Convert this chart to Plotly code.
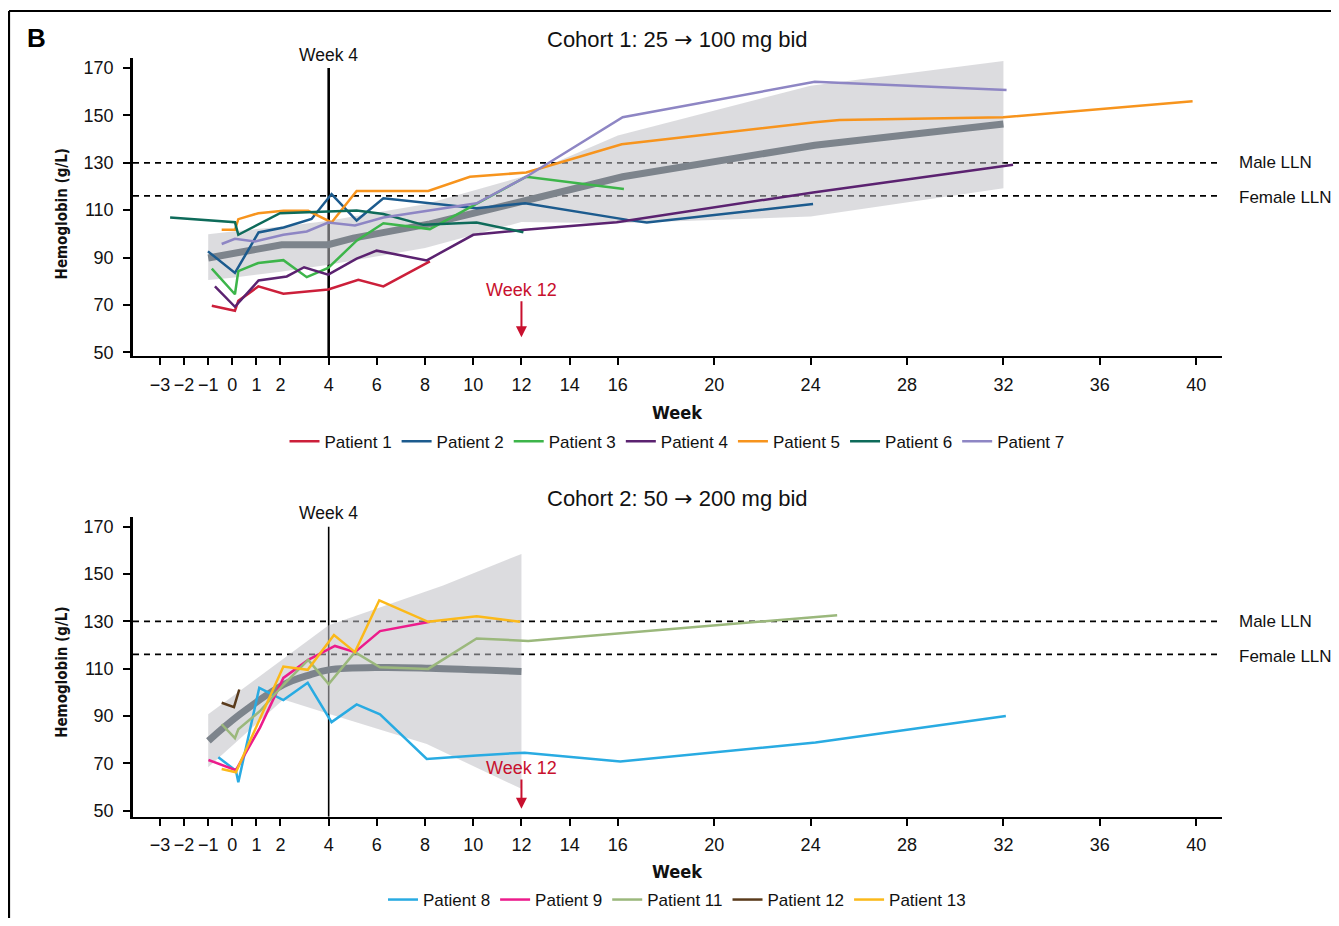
import plotly.graph_objects as go

# ---------------- Data ----------------
week_ticks = [-3, -2, -1, 0, 1, 2, 4, 6, 8, 10, 12, 14, 16, 20, 24, 28, 32, 36, 40]
week_ticktext = ["\u22123", "\u22122", "\u22121", "0", "1", "2", "4", "6", "8", "10", "12",
                 "14", "16", "20", "24", "28", "32", "36", "40"]
hb_ticks = [50, 70, 90, 110, 130, 150, 170]
male_lln = 130
female_lln = 116

# Cohort 1
p1_x = [-0.85, 0.11, 0.25, 1.08, 2.12, 3.98, 5.23, 6.27, 8.2]
p1_y = [69.6, 67.5, 71.7, 77.8, 74.7, 76.5, 80.6, 77.8, 88.4]
p2_x = [-1.01, 0.11, 1.09, 2.13, 3.29, 4.12, 5.16, 6.27, 10.14, 12.15, 16.4, 17.2, 24.1]
p2_y = [92.6, 83.5, 100.6, 102.7, 106.3, 116.8, 105.6, 115.0, 110.8, 112.9, 105.9, 104.8, 112.6]
p3_x = [-0.85, 0.11, 0.25, 1.08, 2.12, 3.09, 3.98, 5.16, 6.27, 8.2, 12.2, 14.5, 16.25]
p3_y = [85.3, 74.5, 84.3, 87.7, 88.9, 81.7, 85.6, 97.1, 104.5, 102.0, 124.1, 121.3, 118.9]
p4_x = [-0.72, 0.11, 1.09, 2.26, 2.98, 3.98, 5.16, 5.99, 8.07, 10.0, 12.15, 15.95, 24.1, 32.4]
p4_y = [77.8, 69.2, 80.3, 82.0, 85.9, 82.8, 89.5, 92.9, 88.8, 99.6, 101.7, 104.9, 117.5, 129.2]
p5_x = [-0.44, 0.11, 0.25, 1.08, 2.12, 3.15, 4.12, 5.16, 8.13, 9.86, 12.2, 16.16, 24.17, 25.2,
        31.99, 35.87, 39.85]
p5_y = [101.7, 101.7, 106.2, 108.7, 109.7, 109.7, 104.8, 118.1, 118.1, 124.1, 125.9, 137.8,
        147.1, 148.1, 149.2, 152.5, 156.0]
p6_x = [-2.58, 0.11, 0.25, 1.98, 3.98, 5.16, 6.27, 7.93, 10.14, 12.08]
p6_y = [106.9, 104.9, 99.6, 108.7, 109.4, 109.8, 108.4, 103.8, 104.8, 100.7]
p7_x = [-0.44, 0.11, 0.94, 2.12, 3.09, 3.98, 5.09, 6.27, 10.14, 12.2, 16.2, 24.17, 32.13]
p7_y = [95.7, 97.9, 96.8, 99.6, 101.0, 104.8, 103.5, 106.9, 112.9, 124.1, 149.2, 164.2, 160.7]

c1_mean_x = [-1, 0.11, 2.05, 3.98, 5.02, 8.2, 12.3, 16.2, 24.17, 32]
c1_mean_y = [89.8, 91.9, 95.4, 95.4, 98.2, 104.2, 114.3, 124.1, 137.4, 146.4]
c1_band_x = [-1, 0, 2, 4, 8, 12, 16, 24, 32]
c1_band_hi = [99.8, 101.0, 103.0, 105.5, 112.5, 124.0, 141.5, 162.5, 173.0]
c1_band_lo = [80.5, 81.5, 84.0, 87.0, 94.0, 105.0, 104.5, 107.3, 119.2]

# Cohort 2
p8_x = [-0.58, 0.15, 0.25, 1.12, 2.12, 3.13, 4.12, 5.16, 6.13, 8.07, 10.14, 12.13, 16.1, 24.2, 32.1]
p8_y = [72.5, 66.9, 62.0, 101.9, 96.7, 104.0, 87.4, 94.9, 90.7, 71.8, 73.3, 74.5, 70.8, 78.8, 90.0]
p9_x = [-0.99, 0.15, 1.15, 2.12, 3.15, 4.26, 5.09, 6.13, 8.2]
p9_y = [71.4, 67.1, 85.1, 106.1, 113.7, 119.6, 117.0, 125.9, 129.8]
p11_x = [-0.44, 0.11, 0.25, 1.15, 2.12, 3.15, 4.0, 5.09, 6.13, 8.13, 10.14, 12.28, 25.1]
p11_y = [86.5, 80.6, 84.4, 92.1, 103.2, 113.7, 103.5, 117.0, 110.6, 109.9, 122.8, 121.7, 132.6]
p12_x = [-0.44, 0.07, 0.29]
p12_y = [95.6, 93.7, 101.2]
p13_x = [-0.44, 0.15, 2.12, 3.13, 4.22, 5.09, 6.1, 8.13, 10.14, 11.94]
p13_y = [67.6, 66.2, 110.9, 109.5, 124.2, 117.0, 138.9, 129.8, 132.2, 129.8]

c2_mean_x = [-0.99, 0.32, 2.12, 3.22, 4.0, 6.13, 8.2, 12]
c2_mean_y = [79.5, 90.7, 103.2, 107.4, 109.5, 110.5, 110.2, 108.8]
c2_band_hi_x = [-1, 4, 8.75, 12]
c2_band_hi = [90.7, 128.4, 145.2, 158.5]
c2_band_lo_x = [-1, 2.12, 4.06, 8.07, 12]
c2_band_lo = [68.3, 97.0, 90.7, 78.1, 59.2]

cohort1 = [("Patient 1", p1_x, p1_y, "#cc1f3a"),
           ("Patient 2", p2_x, p2_y, "#1c5b8e"),
           ("Patient 3", p3_x, p3_y, "#3db54a"),
           ("Patient 4", p4_x, p4_y, "#5b2270"),
           ("Patient 5", p5_x, p5_y, "#f7941d"),
           ("Patient 6", p6_x, p6_y, "#0e6b5a"),
           ("Patient 7", p7_x, p7_y, "#8e86c4")]
cohort2 = [("Patient 8", p8_x, p8_y, "#29abe2"),
           ("Patient 9", p9_x, p9_y, "#ec1c8c"),
           ("Patient 11", p11_x, p11_y, "#9bb87c"),
           ("Patient 12", p12_x, p12_y, "#5a3b1c"),
           ("Patient 13", p13_x, p13_y, "#fbb91a")]

# ---------------- Figure ----------------
OFF = 8                      # page body margin
W, H = 1339 - 2 * OFF, 926 - 2 * OFF


def PX(px):
    return (px - OFF) / W


def PY(py):
    return 1 - (py - OFF) / H


FONT = "Liberation Sans, Arial, Helvetica, sans-serif"
COND = "DejaVu Sans, sans-serif"
BAND = "rgba(192,192,197,0.55)"
MEAN = "#7d848c"
RED = "#c8102e"


def cond(txt):
    return '<span style="font-stretch:condensed">' + txt + '</span>'


fig = go.Figure()

fig.add_trace(go.Scatter(x=c1_band_x + c1_band_x[::-1], y=c1_band_hi + c1_band_lo[::-1],
                         fill="toself", fillcolor=BAND, line=dict(width=0), mode="lines",
                         showlegend=False, hoverinfo="skip", xaxis="x", yaxis="y"))
fig.add_trace(go.Scatter(x=c1_mean_x, y=c1_mean_y, mode="lines",
                         line=dict(color=MEAN, width=7), showlegend=False,
                         xaxis="x", yaxis="y"))
for name, xs, ys, col in cohort1:
    fig.add_trace(go.Scatter(x=xs, y=ys, mode="lines", name=name,
                             line=dict(color=col, width=2.5), xaxis="x", yaxis="y",
                             legend="legend"))

fig.add_trace(go.Scatter(x=c2_band_hi_x + c2_band_lo_x[::-1], y=c2_band_hi + c2_band_lo[::-1],
                         fill="toself", fillcolor=BAND, line=dict(width=0), mode="lines",
                         showlegend=False, hoverinfo="skip", xaxis="x2", yaxis="y2"))
fig.add_trace(go.Scatter(x=c2_mean_x, y=c2_mean_y, mode="lines", line_shape="spline",
                         line=dict(color=MEAN, width=7), showlegend=False,
                         xaxis="x2", yaxis="y2"))
for name, xs, ys, col in cohort2:
    fig.add_trace(go.Scatter(x=xs, y=ys, mode="lines", name=name,
                             line=dict(color=col, width=2.5), xaxis="x2", yaxis="y2",
                             legend="legend2"))

xdom = [PX(133), PX(1222)]
xr = [-4.12, 41.07]
y1dom = [PY(359), PY(58)]
y2dom = [PY(823), PY(521)]
y1r = [48.3, 174.4]
y2r = [47.4, 174.1]

xax = dict(domain=xdom, range=xr, tickmode="array", tickvals=week_ticks, ticktext=week_ticktext,
           showline=True, linecolor="black", linewidth=2.2, ticks="outside", ticklen=7,
           tickwidth=1.6, tickcolor="black", showgrid=False, zeroline=False,
           tickfont=dict(family=FONT, size=18, color="#111"), ticklabelstandoff=4)
yax = dict(tickmode="array", tickvals=hb_ticks, showline=True, linecolor="black",
           linewidth=2.5, ticks="outside", ticklen=7, tickwidth=1.6, tickcolor="black",
           showgrid=False, zeroline=False, tickfont=dict(family=FONT, size=18, color="#111"),
           ticklabelstandoff=6)

fig.update_layout(
    width=W, height=H, margin=dict(l=0, r=0, t=0, b=0),
    paper_bgcolor="white", plot_bgcolor="white",
    xaxis=dict(xax, anchor="y"),
    yaxis=dict(yax, domain=y1dom, range=y1r, anchor="x"),
    xaxis2=dict(xax, anchor="y2"),
    yaxis2=dict(yax, domain=y2dom, range=y2r, anchor="x2"),
    legend=dict(orientation="h", x=PX(677), xanchor="center", y=PY(445), yanchor="middle",
                font=dict(family=FONT, size=17, color="#111"), bgcolor="rgba(0,0,0,0)",
                itemwidth=30, tracegroupgap=0),
    legend2=dict(orientation="h", x=PX(677), xanchor="center", y=PY(907), yanchor="middle",
                 font=dict(family=FONT, size=17, color="#111"), bgcolor="rgba(0,0,0,0)",
                 itemwidth=30, tracegroupgap=0),
    showlegend=True,
)

shapes = []
# frame
shapes.append(dict(type="line", xref="paper", yref="paper", x0=PX(9), x1=PX(9), y0=-0.05, y1=PY(11),
                   line=dict(color="black", width=2.2)))
shapes.append(dict(type="line", xref="paper", yref="paper", x0=PX(9), x1=1.05, y0=PY(11), y1=PY(11),
                   line=dict(color="black", width=2.2)))
for xa, ya, yr, w4 in [("x", "y", y1r, 2.6), ("x2", "y2", y2r, 1.6)]:
    for v in (male_lln, female_lln):
        shapes.append(dict(type="line", xref=xa + " domain", yref=ya, x0=0, x1=1, y0=v, y1=v,
                           line=dict(color="black", width=1.8, dash="6px,5px"), layer="below"))
    shapes.append(dict(type="line", xref=xa, yref=ya, x0=4, x1=4, y0=yr[0], y1=170,
                       line=dict(color="black", width=w4), layer="below"))
fig.update_layout(shapes=shapes)

ARROW = '<span style="font-family:DejaVu Sans">\u2192</span>'
ann = []
ann.append(dict(text="<b>B</b>", xref="paper", yref="paper", x=PX(36), y=PY(38),
                showarrow=False, font=dict(family=FONT, size=26, color="black"),
                xanchor="center", yanchor="middle"))
titles = [("Cohort 1: 25 " + ARROW + " 100 mg bid", 40), ("Cohort 2: 50 " + ARROW + " 200 mg bid", 502)]
for t, yy in titles:
    ann.append(dict(text=t, xref="paper", yref="paper", x=PX(677), y=PY(yy), showarrow=False,
                    font=dict(family=FONT, size=22, color="#111"), xanchor="center", yanchor="middle"))
for xa, ya, wk4y, weeky, hby, w12txt, w12tip in [
        ("x", "y", 55, 416, 215, 76.4, 56.3),
        ("x2", "y2", 517, 878, 677, 68.0, 50.8)]:
    ann.append(dict(text="Week 4", xref=xa, yref="paper", x=4, y=PY(wk4y), showarrow=False,
                    font=dict(family=FONT, size=17.5, color="#111"), xanchor="center", yanchor="middle"))
    ann.append(dict(text=cond("<b>Week</b>"), xref="paper", yref="paper", x=PX(677), y=PY(weeky),
                    showarrow=False, font=dict(family=COND, size=18, color="#111"),
                    xanchor="center", yanchor="middle"))
    ann.append(dict(text=cond("<b>Hemoglobin (g/L)</b>"), xref="paper", yref="paper", x=PX(62),
                    y=PY(hby), showarrow=False, textangle=-90,
                    font=dict(family=COND, size=15, color="#111"),
                    xanchor="center", yanchor="middle"))
    ann.append(dict(text="Male LLN", xref="paper", yref=ya, x=PX(1237), y=male_lln, showarrow=False,
                    font=dict(family=FONT, size=17, color="#111"), xanchor="left", yanchor="middle"))
    ann.append(dict(text="Female LLN", xref="paper", yref=ya, x=PX(1237), y=female_lln, showarrow=False,
                    font=dict(family=FONT, size=17, color="#111"), xanchor="left", yanchor="middle",
                    yshift=-2))
    ann.append(dict(text="Week 12", xref=xa, yref=ya, x=12, y=w12tip, ax=12, ay=w12txt,
                    axref=xa, ayref=ya, showarrow=True, arrowhead=2, arrowsize=1.1, arrowwidth=2,
                    arrowcolor=RED, standoff=0, font=dict(family=FONT, size=18, color=RED)))
fig.update_layout(annotations=ann)

fig.write_html("out.html")
